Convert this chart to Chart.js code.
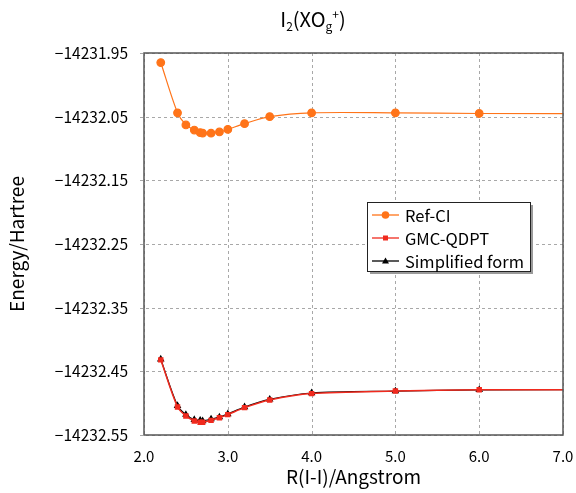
<!DOCTYPE html>
<html>
<head>
<meta charset="utf-8">
<script src="https://cdn.jsdelivr.net/npm/chart.js@4"></script>
<style>
  html, body { margin: 0; padding: 0; background: #fff; }
  #wrap { width: 576px; height: 493px; }
</style>
</head>
<body>
<div id="wrap"><canvas id="myChart" width="576" height="493"></canvas></div>
<script>
// bond length R(I-I) in Angstrom (last one lies past the axis, only carries the line to the edge)
const rValues = [2.2, 2.4, 2.5, 2.6, 2.67, 2.7, 2.8, 2.9, 3.0, 3.2, 3.5, 4.0, 5.0, 6.0, 8.0];

// energies in Hartree
const refCI = [-14231.965, -14232.044, -14232.063, -14232.071, -14232.075, -14232.076, -14232.076,
  -14232.074, -14232.070, -14232.061, -14232.050, -14232.044, -14232.044, -14232.045, -14232.045];
const gmcQdpt = [-14232.432, -14232.506, -14232.520, -14232.528, -14232.530, -14232.530, -14232.527,
  -14232.523, -14232.518, -14232.507, -14232.495, -14232.485, -14232.481, -14232.479, -14232.479];
const simplified = [-14232.431, -14232.504, -14232.518, -14232.526, -14232.527, -14232.528, -14232.525,
  -14232.522, -14232.517, -14232.506, -14232.494, -14232.484, -14232.481, -14232.479, -14232.479];

const xTicks = [2.0, 3.0, 4.0, 5.0, 6.0, 7.0];
const yTicks = [-14231.95, -14232.05, -14232.15, -14232.25, -14232.35, -14232.45, -14232.55];

const FONT = '"Noto Sans CJK JP", "Liberation Sans", sans-serif';

function pts(ys) {
  return rValues.map((r, i) => ({ x: r, y: ys[i] }));
}

// dashed grid, frame round the plot area, legend inside it, and the title with sub/superscripts
const decor = {
  id: 'decor',
  beforeDatasetsDraw(chart) {
    const ctx = chart.ctx;
    const a = chart.chartArea;
    const xs = chart.scales.x, ys = chart.scales.y;
    ctx.save();
    ctx.strokeStyle = '#a8a8a8';
    ctx.lineWidth = 1;
    ctx.setLineDash([3, 3]);
    xTicks.forEach(v => {
      const px = Math.round(xs.getPixelForValue(v)) + 0.5;
      ctx.beginPath();
      ctx.moveTo(px, a.top);
      ctx.lineTo(px, a.bottom);
      ctx.stroke();
    });
    yTicks.forEach(v => {
      const py = Math.round(ys.getPixelForValue(v)) + 0.5;
      ctx.beginPath();
      ctx.moveTo(a.left - 4, py);
      ctx.lineTo(a.right, py);
      ctx.stroke();
    });
    ctx.restore();
  },
  afterDatasetsDraw(chart) {
    const ctx = chart.ctx;
    const a = chart.chartArea;
    ctx.save();
    ctx.strokeStyle = '#555';
    ctx.lineWidth = 1.5;
    ctx.strokeRect(a.left, a.top, a.right - a.left, a.bottom - a.top);
    ctx.restore();
  },
  afterDraw(chart) {
    const ctx = chart.ctx;
    const a = chart.chartArea;

    // legend box
    const bx = a.right - 196, by = a.top + 149, bw = 163, bh = 69;
    ctx.save();
    ctx.fillStyle = '#9a9a9a';
    ctx.fillRect(bx + 3, by + 3, bw, bh);
    ctx.fillStyle = '#fff';
    ctx.fillRect(bx, by, bw, bh);
    ctx.strokeStyle = '#222';
    ctx.lineWidth = 1;
    ctx.strokeRect(bx + 0.5, by + 0.5, bw, bh);
    ctx.font = '16.5px ' + FONT;
    ctx.textBaseline = 'middle';
    chart.data.datasets.forEach((ds, i) => {
      const y = by + 13 + i * 23;
      ctx.strokeStyle = ds.borderColor;
      ctx.lineWidth = 1.3;
      ctx.beginPath();
      ctx.moveTo(bx + 5, y);
      ctx.lineTo(bx + 32, y);
      ctx.stroke();
      ctx.fillStyle = ds.pointBackgroundColor;
      const cx = bx + 18.5;
      ctx.beginPath();
      if (ds.pointStyle === 'circle') {
        ctx.arc(cx, y, 3.8, 0, Math.PI * 2);
      } else if (ds.pointStyle === 'rect') {
        ctx.rect(cx - 2.5, y - 2.5, 5, 5);
      } else {
        ctx.moveTo(cx, y - 3.5);
        ctx.lineTo(cx + 3.5, y + 2.5);
        ctx.lineTo(cx - 3.5, y + 2.5);
        ctx.closePath();
      }
      ctx.fill();
      ctx.fillStyle = '#000';
      ctx.fillText(ds.label, bx + 38, y + 1);
    });

    // title I2(XOg+)
    const parts = [
      { t: 'I', s: 20, dy: 0 },
      { t: '2', s: 12, dy: 4 },
      { t: '(XO', s: 20, dy: 0 },
      { t: 'g', s: 12, dy: 4 },
      { t: '+', s: 12, dy: -8 },
      { t: ')', s: 20, dy: 0 }
    ];
    ctx.fillStyle = '#000';
    ctx.textBaseline = 'alphabetic';
    let w = 0;
    parts.forEach(p => {
      ctx.font = p.s + 'px ' + FONT;
      p.w = ctx.measureText(p.t).width;
      w += p.w;
    });
    let x = 313 - w / 2;
    parts.forEach(p => {
      ctx.font = p.s + 'px ' + FONT;
      ctx.fillText(p.t, x, 27 + p.dy);
      x += p.w;
    });
    ctx.restore();
  }
};

const ctx = document.getElementById('myChart').getContext('2d');
const myChart = new Chart(ctx, {
  type: 'line',
  data: {
    datasets: [
      {
        label: 'Ref-CI',
        data: pts(refCI),
        borderColor: '#ff7419',
        backgroundColor: '#ff7419',
        pointBackgroundColor: '#ff7419',
        pointBorderColor: '#ff7419',
        pointStyle: 'circle',
        pointRadius: 3.8,
        borderWidth: 1.2,
        tension: 0.3
      },
      {
        label: 'GMC-QDPT',
        data: pts(gmcQdpt),
        borderColor: '#f02a1e',
        backgroundColor: '#f02a1e',
        pointBackgroundColor: '#f02a1e',
        pointBorderColor: '#f02a1e',
        pointStyle: 'rect',
        pointRadius: 2.8,
        borderWidth: 1.5,
        tension: 0.3
      },
      {
        label: 'Simplified form',
        data: pts(simplified),
        borderColor: '#000',
        backgroundColor: '#000',
        pointBackgroundColor: '#000',
        pointBorderColor: '#000',
        pointStyle: 'triangle',
        pointRadius: 3.2,
        borderWidth: 1.2,
        tension: 0.3
      }
    ]
  },
  options: {
    responsive: false,
    animation: false,
    layout: { padding: { left: 0, right: 13, top: 53, bottom: 0 } },
    plugins: {
      legend: { display: false },
      tooltip: { enabled: false }
    },
    scales: {
      x: {
        type: 'linear',
        min: 2.0,
        max: 7.0,
        afterBuildTicks: s => { s.ticks = xTicks.map(v => ({ value: v })); },
        afterFit: s => {
          s.height = 58;
          s.paddingLeft = 0;
          s.paddingRight = 0;
        },
        ticks: {
          padding: 12,
          color: '#000',
          font: { family: FONT, size: 15 },
          callback: v => Number(v).toFixed(1)
        },
        grid: { display: false, drawTicks: false },
        border: { display: false },
        title: {
          display: true,
          text: 'R(I-I)/Angstrom',
          color: '#000',
          font: { family: FONT, size: 19 },
          padding: { top: 0, bottom: 5 }
        }
      },
      y: {
        type: 'linear',
        min: -14232.55,
        max: -14231.95,
        afterBuildTicks: s => { s.ticks = yTicks.map(v => ({ value: v })); },
        afterFit: s => {
          s.width = 144;
          s.paddingTop = 0;
          s.paddingBottom = 0;
        },
        ticks: {
          padding: 16,
          color: '#000',
          font: { family: FONT, size: 15.5 },
          callback: v => Number(v).toFixed(2).replace('-', '\u2212')
        },
        grid: { display: false, drawTicks: false },
        border: { display: false },
        title: {
          display: true,
          text: 'Energy/Hartree',
          color: '#000',
          font: { family: FONT, size: 19 },
          padding: { top: 5, bottom: 0 }
        }
      }
    }
  },
  plugins: [decor]
});
</script>
</body>
</html>
